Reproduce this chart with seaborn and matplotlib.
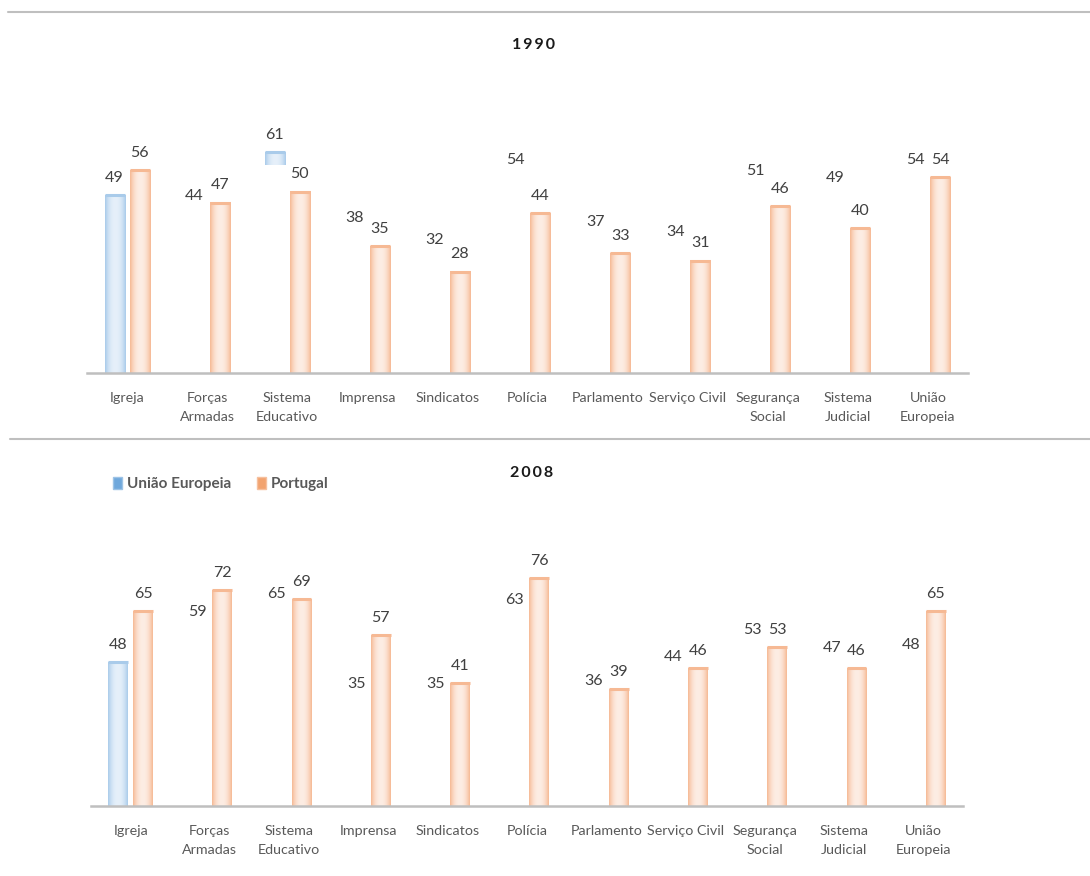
import numpy as np
import pandas as pd
import matplotlib
matplotlib.use("Agg")
import matplotlib.pyplot as plt
import seaborn as sns
from matplotlib.patches import Patch
from matplotlib.lines import Line2D
from matplotlib.colors import to_rgb

categories = ["Igreja", "Forças\nArmadas", "Sistema\nEducativo", "Imprensa", "Sindicatos",
              "Polícia", "Parlamento", "Serviço Civil", "Segurança\nSocial",
              "Sistema\nJudicial", "União\nEuropeia"]
series = ["União Europeia", "Portugal"]

eu_1990 = [49, 44, 61, 38, 32, 54, 37, 34, 51, 49, 54]
pt_1990 = [56, 47, 50, 35, 28, 44, 33, 31, 46, 40, 54]
eu_2008 = [48, 59, 65, 35, 35, 63, 36, 44, 53, 47, 48]
pt_2008 = [65, 72, 69, 57, 41, 76, 39, 46, 53, 46, 65]

# In the source picture most EU bars are not rendered: value from which the
# visible part of each EU bar starts (None = bar not shown, only its label)
eu_shown_from_1990 = [0, None, 57.5, None, None, None, None, None, None, None, None]
eu_shown_from_2008 = [0, None, None, None, None, None, None, None, None, None, None]

BLUE_EDGE, BLUE_CENTER = "#A9CBEA", "#E6F0FA"
ORANGE_EDGE, ORANGE_CENTER = "#F6B994", "#FDEDE4"
TEXT = "#404040"
AXIS_GREY = "#BFBFBF"

sns.set_theme(style="white")
plt.rcParams["font.family"] = ["Lato", "DejaVu Sans"]

fig = plt.figure(figsize=(10.9, 8.76), dpi=100)
W, H = 1090, 876
ax1 = fig.add_axes([87 / W, 1 - 373 / H, 881 / W, 273 / H])
ax2 = fig.add_axes([91 / W, 1 - 806 / H, 872 / W, 255 / H])


def grad_img(edge, center, n=64):
    t = np.linspace(0, 1, n)
    d = np.abs(2 * t - 1) ** 2.2
    e = np.array(to_rgb(edge))
    c = np.array(to_rgb(center))
    row = c[None, :] + (e - c)[None, :] * d[:, None]
    return row[None, :, :]


def panel(ax, eu, pt, shown_from, ymax):
    df = pd.DataFrame({
        "cat": categories * 2,
        "serie": [series[0]] * len(categories) + [series[1]] * len(categories),
        "val": eu + pt,
    })
    sns.barplot(data=df, x="cat", y="val", hue="serie", hue_order=series,
                order=categories, width=0.625, gap=0.2, ax=ax, legend=False,
                palette=[BLUE_EDGE, ORANGE_EDGE], errorbar=None)
    styles = [(BLUE_EDGE, BLUE_CENTER), (ORANGE_EDGE, ORANGE_CENTER)]
    for k, cont in enumerate(ax.containers[:2]):
        edge, center = styles[k]
        vals = eu if k == 0 else pt
        for i, p in enumerate(cont.patches):
            x0, w, h = p.get_x(), p.get_width(), p.get_height()
            p.set_visible(False)
            start = 0 if k == 1 else shown_from[i]
            if start is not None:
                ax.imshow(grad_img(edge, center), extent=[x0, x0 + w, start, h],
                          aspect="auto", interpolation="bilinear", zorder=2)
                ax.plot([x0, x0 + w], [h, h], color=edge, lw=2.2,
                        solid_capstyle="butt", zorder=3)
            ax.annotate(f"{vals[i]}", (x0 + w / 2, h), xytext=(0, 12.5),
                        textcoords="offset points", ha="center", va="center",
                        fontsize=11.5, color=TEXT)
    ax.set_xlim(-0.5, len(categories) - 0.5)
    ax.set_ylim(0, ymax)
    ax.set_xlabel("")
    ax.set_ylabel("")
    ax.set_yticks([])
    for s in ["top", "left", "right"]:
        ax.spines[s].set_visible(False)
    ax.spines["bottom"].set_color(AXIS_GREY)
    ax.spines["bottom"].set_linewidth(1.8)
    ax.spines["bottom"].set_zorder(4)
    ax.tick_params(axis="x", length=0, pad=14, labelsize=10.3, labelcolor="#595959")
    for lbl in ax.get_xticklabels():
        lbl.set_linespacing(1.68)
        lbl.set_verticalalignment("top")


panel(ax1, eu_1990, pt_1990, eu_shown_from_1990, 273 / 3.625)
panel(ax2, eu_2008, pt_2008, eu_shown_from_2008, 255 / 3.0)

fig.text(533 / W, 1 - 45 / H, "1\u20099\u20099\u20090", ha="center", va="center",
         fontsize=11.5, fontweight="bold", color="#1a1a1a")
fig.text(532 / W, 1 - 473 / H, "2\u20090\u20090\u20098", ha="center", va="center",
         fontsize=11.5, fontweight="bold", color="#1a1a1a")

fig.add_artist(Line2D([8 / W, 1], [1 - 12 / H] * 2, color=AXIS_GREY, lw=1.5))
fig.add_artist(Line2D([10 / W, 1], [1 - 439 / H] * 2, color=AXIS_GREY, lw=1.5))

handles = [Patch(facecolor="#6FA8DC", edgecolor="#9DC3E6"),
           Patch(facecolor="#F2A36F", edgecolor="#F6C09E")]
fig.legend(handles=handles, labels=series, loc="center left",
           bbox_to_anchor=(113 / W, 1 - 484 / H), ncol=2, frameon=False,
           prop={"weight": "bold", "size": 11}, labelcolor="#595959",
           handlelength=0.6, handleheight=0.9, handletextpad=0.3,
           columnspacing=1.7, borderaxespad=0, borderpad=0)

fig.savefig("out.png", dpi=100)
